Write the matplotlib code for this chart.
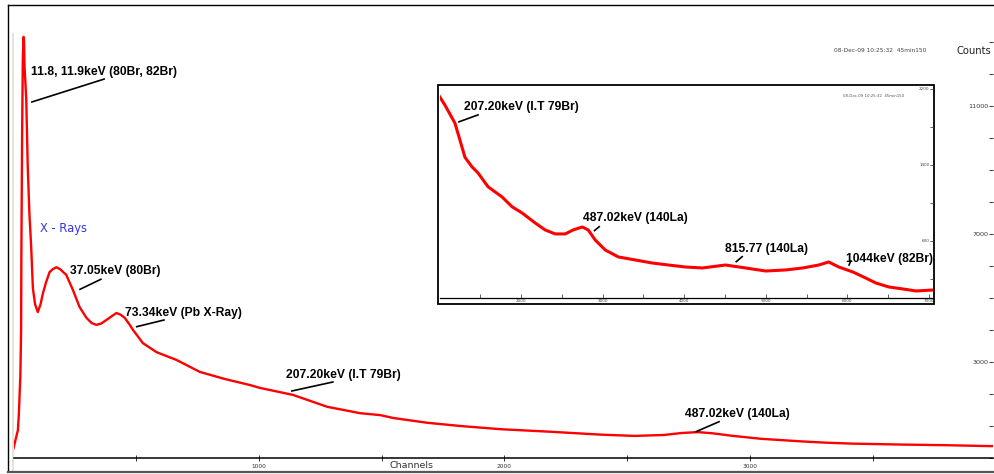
import matplotlib
matplotlib.use('Agg')
import matplotlib.pyplot as plt
from matplotlib.patches import Rectangle
from matplotlib.lines import Line2D
from matplotlib.ticker import FixedLocator, MultipleLocator, NullFormatter

# ---------------- data ----------------
main_channels = [0, 8, 18, 22, 24, 28, 31, 32, 35, 38,
                 41, 43, 45, 48, 52, 58, 65, 72, 79, 88,
                 99, 110, 120, 133, 147, 160, 174, 190, 215, 242,
                 269, 297, 318, 337, 357, 378, 400, 419, 436, 453,
                 470, 487, 527, 582, 665, 759, 860, 963, 1004, 1139,
                 1278, 1412, 1494, 1547, 1686, 1820, 1984, 2188, 2392, 2530,
                 2650, 2720, 2788, 2850, 2920, 3045, 3208, 3306, 3412, 3616,
                 3800, 3986]
main_counts = [300, 560, 875, 1400, 1810, 2600, 4000, 6300, 10000, 12500,
               13160, 13000, 12220, 11800, 11190, 9100, 7600, 6600, 5300, 4800,
               4560, 4800, 5150, 5500, 5810, 5900, 5960, 5900, 5720, 5250,
               4720, 4380, 4220, 4160, 4200, 4310, 4430, 4530, 4480, 4380,
               4200, 4000, 3590, 3310, 3060, 2690, 2470, 2280, 2190, 1970,
               1600, 1400, 1340, 1250, 1100, 1000, 900, 820, 730, 690,
               720, 780, 810, 770, 700, 600, 520, 480, 450, 420,
               400, 370]

inset_channels = [1000, 1066, 1189, 1251, 1312, 1398, 1472, 1595, 1767, 1889,
                  2012, 2172, 2295, 2418, 2541, 2639, 2750, 2823, 2909, 3032,
                  3192, 3400, 3609, 3806, 4015, 4224, 4506, 4752, 4998, 5244,
                  5453, 5650, 5772, 5895, 6067, 6226, 6349, 6509, 6681, 6841,
                  7050]
inset_counts = [2120, 2030, 1840, 1660, 1480, 1380, 1316, 1170, 1063, 960,
                895, 790, 716, 674, 674, 716, 747, 716, 610, 505,
                432, 400, 368, 347, 326, 316, 347, 316, 284, 295,
                316, 347, 379, 326, 274, 210, 158, 116, 95, 74,
                84]

main_xtick_labels = ['1000', '2000', '3000']
main_ytick_labels = ['3000', '7000', '11000']
inset_xtick_labels = ['2000', '3000', '4000', '5000', '6000', '7000']
inset_ytick_labels = ['600', '1400', '2200']

main_labels = ['11.8, 11.9keV (80Br, 82Br)', '37.05keV (80Br)', '73.34keV (Pb X-Ray)',
               '207.20keV (I.T 79Br)', '487.02keV (140La)']
inset_labels = ['207.20keV (I.T 79Br)', '487.02keV (140La)', '815.77 (140La)', '1044keV (82Br)']
stamp = '08-Dec-09 10:25:32  45min150'

# ---------------- layout helpers ----------------
W, H = 994, 474
fig = plt.figure(figsize=(W / 100, H / 100), dpi=100)
fig.patch.set_facecolor('white')


def fx(px):
    return px / W


def fy(py):
    return 1 - py / H


BOLD = dict(family=['Liberation Sans', 'DejaVu Sans'], fontweight='bold', fontsize=8.7, color='black')
RED = '#ff0000'

# outer window frame
fig.add_artist(Line2D([fx(8), fx(8)], [fy(5), fy(471)], color='black', lw=1.0))
fig.add_artist(Line2D([fx(8), fx(994)], [fy(5), fy(5)], color='black', lw=1.0))
fig.add_artist(Line2D([fx(8), fx(994)], [fy(471.5), fy(471.5)], color='#555555', lw=1.6))
fig.add_artist(Rectangle((fx(11.5), fy(471)), fx(2), fy(33) - fy(471),
                         facecolor='#e6e2de', edgecolor='none'))

# ---------------- main axes ----------------
ax = fig.add_axes([fx(13.5), fy(458), fx(993) - fx(13.5), fy(33) - fy(458)])
ax.set_zorder(1)
ax.plot(main_channels, main_counts, color=RED, lw=1.7, solid_joinstyle='round')
ax.set_xlim(0, 3990)
ax.set_ylim(0, 13280)
for s in ['top', 'left', 'right']:
    ax.spines[s].set_visible(False)
ax.spines['bottom'].set_color('black')
ax.spines['bottom'].set_linewidth(1.1)

ax.xaxis.set_major_locator(FixedLocator([1000, 2000, 3000]))
ax.set_xticklabels(main_xtick_labels)
ax.xaxis.set_minor_locator(FixedLocator([500, 1500, 2500, 3500]))
ax.tick_params(axis='x', which='both', direction='inout', length=5, width=0.7,
               labelsize=4.2, pad=1.5, colors='#333333')

ax.yaxis.tick_right()
ax.yaxis.set_major_locator(FixedLocator([3000, 7000, 11000]))
ax.set_yticklabels(main_ytick_labels)
ax.yaxis.set_minor_locator(MultipleLocator(1000))
ax.yaxis.set_minor_formatter(NullFormatter())
ax.tick_params(axis='y', which='both', direction='in', length=3, width=0.7,
               labelsize=4.6, pad=-3, colors='#333333')
for lbl in ax.get_yticklabels():
    lbl.set_horizontalalignment('right')

# main annotations: (text x, text y), leader (x0, y0) -> (x1, y1)
main_text_pos = [(71, 12060), (230, 5844), (454, 4540), (1110, 2594), (2735, 1375)]
main_leaders = [((75, 11125), (369, 11840)),
                ((271, 5272), (356, 5584)),
                ((502, 4103), (613, 4312)),
                ((1134, 2094), (1301, 2375)),
                ((2780, 822), (2874, 1134))]
for lab, (tx, ty), (p0, p1) in zip(main_labels, main_text_pos, main_leaders):
    ax.text(tx, ty, lab, ha='left', va='center', **BOLD)
    ax.plot([p0[0], p1[0]], [p0[1], p1[1]], color='black', lw=1.2)

ax.text(108, 7156, 'X - Rays', ha='left', va='center', color='#3333ee',
        fontsize=8.3, family='DejaVu Sans')

fig.text(fx(412), fy(465), 'Channels', ha='center', va='center', fontsize=6.8, color='#333333')
fig.text(fx(974), fy(51), 'Counts', ha='center', va='center', fontsize=7.2, color='#222222')
fig.text(fx(880), fy(51), stamp, ha='center', va='center', fontsize=4.2, color='#444444')

# ---------------- inset ----------------
fig.add_artist(Rectangle((fx(438), fy(304)), fx(934) - fx(438), fy(85) - fy(304),
                         facecolor='white', edgecolor='black', lw=1.3, zorder=2))
axi = fig.add_axes([fx(439.5), fy(298), fx(933) - fx(439.5), fy(86) - fy(298)])
axi.set_zorder(3)
axi.patch.set_alpha(0)
axi.plot(inset_channels, inset_counts, color=RED, lw=2.2, solid_joinstyle='round')
axi.set_xlim(1000, 7050)
axi.set_ylim(0, 2230)
for s in ['top', 'left', 'right']:
    axi.spines[s].set_visible(False)
axi.spines['bottom'].set_linewidth(0.9)

axi.xaxis.set_major_locator(FixedLocator([2000, 3000, 4000, 5000, 6000, 7000]))
axi.set_xticklabels(inset_xtick_labels)
axi.xaxis.set_minor_locator(FixedLocator([1500, 2500, 3500, 4500, 5500, 6500]))
axi.tick_params(axis='x', which='both', direction='in', length=3, width=0.6,
                labelsize=3.0, pad=0.8, colors='#444444')

axi.yaxis.tick_right()
axi.yaxis.set_major_locator(FixedLocator([600, 1400, 2200]))
axi.set_yticklabels(inset_ytick_labels)
axi.yaxis.set_minor_locator(FixedLocator([200, 1000, 1800]))
axi.yaxis.set_minor_formatter(NullFormatter())
axi.tick_params(axis='y', which='both', direction='in', length=2.5, width=0.6,
                labelsize=3.0, pad=-2.5, colors='#444444')
for lbl in axi.get_yticklabels():
    lbl.set_horizontalalignment('right')

inset_text_pos = [(1300, 2010), (2762, 839), (4505, 516), (5980, 411)]
inset_leaders = [((1238, 1853), (1472, 1926)),
                 ((2900, 709), (2958, 750)),
                 ((4638, 382), (4711, 435)),
                 ((6021, 347), (6042, 389))]
for lab, (tx, ty), (p0, p1) in zip(inset_labels, inset_text_pos, inset_leaders):
    t = axi.text(tx, ty, lab, ha='left', va='center', **BOLD)
    t.set_clip_on(True)
    axi.plot([p0[0], p1[0]], [p0[1], p1[1]], color='black', lw=1.2)

axi.text(0.88, 0.955, stamp, transform=axi.transAxes, ha='center', va='center',
         fontsize=2.8, color='#555555')

fig.savefig('out.png', dpi=100, facecolor='white')
